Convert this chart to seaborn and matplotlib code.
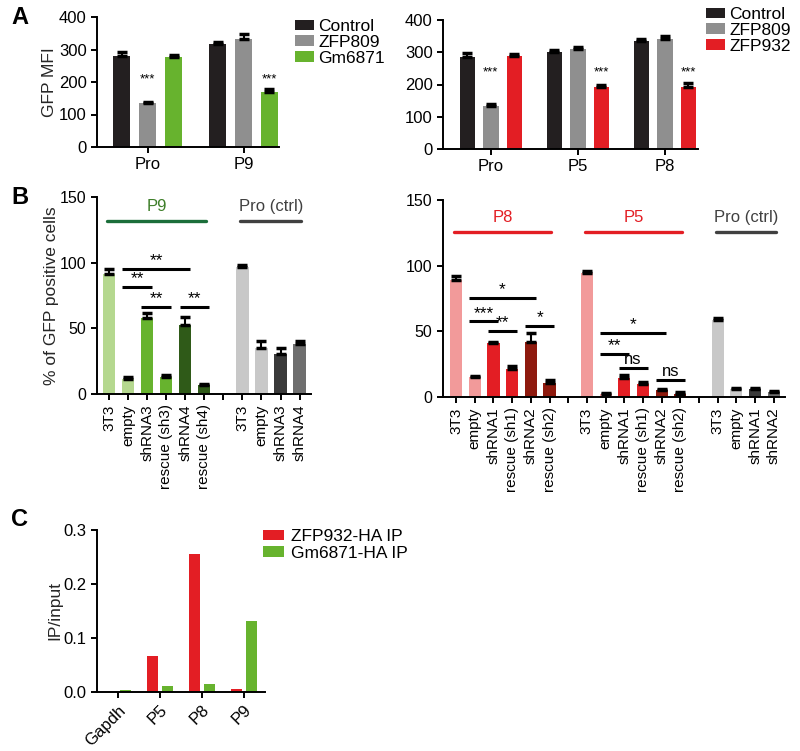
"""Figure: GFP reporter silencing by KZFPs (A), shRNA knockdown/rescue (B) and ChIP IP/input (C)."""

import matplotlib
matplotlib.use("Agg")
import matplotlib.pyplot as plt
import numpy as np
import pandas as pd
import seaborn as sns

# ---------------- data ----------------
# Panel A, left
A1_SITES = ["Pro", "P9"]
A1_GROUPS = ["Control", "ZFP809", "Gm6871"]
A1_CONTROL = [281, 317]
A1_ZFP809 = [135, 333]
A1_GM6871 = [277, 168]
A1_CONTROL_ERR = [11, 6]
A1_ZFP809_ERR = [4, 14]
A1_GM6871_ERR = [7, 10]
A1_STARS = [("Pro", "ZFP809", "***"), ("P9", "Gm6871", "***")]

# Panel A, right
A2_SITES = ["Pro", "P5", "P8"]
A2_GROUPS = ["Control", "ZFP809", "ZFP932"]
A2_CONTROL = [284, 300, 336]
A2_ZFP809 = [134, 309, 340]
A2_ZFP932 = [287, 192, 192]
A2_CONTROL_ERR = [15, 8, 6]
A2_ZFP809_ERR = [6, 7, 10]
A2_ZFP932_ERR = [9, 6, 12]
A2_STARS = [("Pro", "ZFP809", "***"), ("P5", "ZFP932", "***"), ("P8", "ZFP932", "***")]

# Panel B, left ("" = empty slot)
B1_LABELS = ["3T3", "empty", "shRNA3", "rescue (sh3)", "shRNA4", "rescue (sh4)", "",
             "3T3", "empty", "shRNA3", "shRNA4"]
B1_MEAN = [91.3, 11.4, 57.5, 12.7, 52.6, 6.9, None, 96.6, 35.3, 30.8, 38.1]
B1_ERR = [3.7, 1.6, 4.5, 1.5, 5.9, 1.0, None, 1.4, 5.4, 4.5, 2.1]
B1_BRACKETS = [(1, 4, 95, "**"), (1, 2, 81.4, "**"), (2, 3, 66.6, "**"), (4, 5, 66.6, "**")]
B1_HEADERS = [(0, 5, "P9"), (7, 10, "Pro (ctrl)")]

# Panel B, right
B2_LABELS = ["3T3", "empty", "shRNA1", "rescue (sh1)", "shRNA2", "rescue (sh2)", "",
             "3T3", "empty", "shRNA1", "rescue (sh1)", "shRNA2", "rescue (sh2)", "",
             "3T3", "empty", "shRNA1", "shRNA2"]
B2_MEAN = [89.4, 15.0, 41.0, 21.1, 41.5, 11.0, None,
           94.2, 2.5, 14.8, 9.9, 5.1, 2.0, None,
           58.8, 6.4, 5.9, 4.1]
B2_ERR = [2.6, 1.0, 1.0, 2.6, 7.6, 1.7, None,
          1.8, 0.8, 1.8, 1.8, 1.0, 1.8, None,
          1.0, 0.7, 0.7, 0.7]
B2_BRACKETS = [(1, 4, 75.4, "*"), (1, 2, 57.5, "***"), (2, 3, 50.4, "**"), (4, 5, 54.2, "*"),
               (8, 11, 49.1, "*"), (8, 9, 32.6, "**"), (9, 10, 22.4, "ns"), (11, 12, 13.0, "ns")]
B2_HEADERS = [(0, 5, "P8"), (7, 12, "P5"), (14, 17, "Pro (ctrl)")]

# Panel C
C_TARGETS = ["Gapdh", "P5", "P8", "P9"]
C_SERIES = ["ZFP932-HA IP", "Gm6871-HA IP"]
C_ZFP932 = [0.0003, 0.067, 0.255, 0.0055]
C_GM6871 = [0.003, 0.011, 0.015, 0.132]

# ---------------- style ----------------
BLACK = "#231f20"
GREY = "#8f8f8f"
GREEN = "#67b32e"
RED = "#e31e24"
LGREEN, DGREEN = "#b5d88f", "#2f5a18"
PINK, DRED = "#f29a9a", "#8e1a0e"
LGREY, DGREY, MGREY = "#c8c8c8", "#3a3a3a", "#6e6e6e"

B1_COLORS = [LGREEN, LGREEN, GREEN, GREEN, DGREEN, DGREEN, None, LGREY, LGREY, DGREY, MGREY]
B2_COLORS = [PINK, PINK, RED, RED, DRED, DRED, None,
             PINK, PINK, RED, RED, DRED, DRED, None,
             LGREY, LGREY, DGREY, MGREY]
B1_HEADER_COLORS = [("#1b6e3a", "#3f7f2a"), ("#404040", "#404040")]
B2_HEADER_COLORS = [(RED, RED), (RED, RED), ("#404040", "#404040")]

sns.set_theme(style="ticks")
plt.rcParams["font.family"] = ["Liberation Sans", "DejaVu Sans"]
plt.rcParams.update({
    "font.size": 12,
    "axes.linewidth": 1.4,
    "axes.edgecolor": "black",
    "axes.labelpad": 1.0,
    "xtick.major.width": 1.4,
    "ytick.major.width": 1.4,
    "xtick.major.size": 4,
    "ytick.major.size": 4,
    "xtick.labelsize": 12,
    "ytick.labelsize": 12,
    "xtick.color": "black",
    "ytick.color": "black",
    "text.color": "black",
})

W, H = 800, 751
fig = plt.figure(figsize=(W / 100, H / 100), dpi=100)


def px_axes(x0, y0, x1, y1):
    return fig.add_axes([x0 / W, 1 - y1 / H, (x1 - x0) / W, (y1 - y0) / H])


def errbars(ax, x, y, e):
    ax.errorbar(x, y, yerr=[np.zeros(len(e)), e], fmt="none", ecolor="black",
                elinewidth=1.5, capsize=3.5, capthick=2.5, zorder=3)


def grouped_panel(ax, sites, groups, means, errs, palette, stars, ylabel, leg_xy, star_y):
    df = pd.DataFrame({
        "site": np.repeat([sites], len(groups), axis=0).ravel(),
        "group": np.repeat(groups, len(sites)),
        "value": np.concatenate(means),
    })
    sns.barplot(data=df, x="site", y="value", hue="group", order=sites, hue_order=groups,
                palette=palette, saturation=1, width=0.81, gap=0.35, linewidth=0,
                errorbar=None, ax=ax)
    centers = {}
    for g, cont, m, e in zip(groups, ax.containers, means, errs):
        xs = [b.get_x() + b.get_width() / 2 for b in cont]
        errbars(ax, xs, m, e)
        for s, x in zip(sites, xs):
            centers[(s, g)] = x
    for s, g, txt in stars:
        ax.text(centers[(s, g)], star_y, txt, ha="center", va="center", fontsize=9.5)
    ax.set_ylim(0, 400)
    ax.set_yticks([0, 100, 200, 300, 400])
    ax.set_xlabel("")
    ax.set_ylabel(ylabel, fontsize=12.5)
    ax.tick_params(axis="x", length=4)
    ax.legend(loc="upper left", bbox_to_anchor=(leg_xy[0] / W, 1 - leg_xy[1] / H),
              bbox_transform=fig.transFigure, frameon=False, borderaxespad=0,
              borderpad=0, handlelength=1.1, handleheight=0.55, handletextpad=0.25,
              labelspacing=0.05, fontsize=12.5)
    sns.despine(ax=ax)


def slot_panel(ax, labels, mean, err, colors, brackets, headers, header_colors, hdr_y, ylabel):
    keys = [f"s{i}" for i in range(len(labels))]
    rows = [(k, m) for k, m in zip(keys, mean) if m is not None]
    df = pd.DataFrame(rows, columns=["slot", "value"])
    pal = {k: c for k, c in zip(keys, colors) if c is not None}
    sns.barplot(data=df, x="slot", y="value", hue="slot", order=keys, palette=pal,
                saturation=1, width=0.65, linewidth=0, errorbar=None, legend=False, ax=ax)
    idx = [i for i, m in enumerate(mean) if m is not None]
    errbars(ax, idx, [mean[i] for i in idx], [err[i] for i in idx])
    ax.set_xticks(range(len(labels)))
    ax.set_xticklabels(labels, rotation=90, fontsize=11)
    ax.tick_params(axis="y", labelsize=11.5)
    for i, j, y, txt in brackets:
        ax.plot([i - 0.3, j + 0.25], [y, y], color="black", lw=2.2, solid_capstyle="butt")
        ax.annotate(txt, ((i - 0.3 + j + 0.25) / 2, y), xytext=(0, 0.5),
                    textcoords="offset points", ha="center", va="bottom",
                    fontsize=12.5 if "*" in txt else 12)
    for (i, j, txt), (lc, tc) in zip(headers, header_colors):
        ax.plot([i - 0.1, j + 0.1], [hdr_y, hdr_y], color=lc, lw=2.4, solid_capstyle="round")
        ax.text((i + j) / 2, hdr_y + 11, txt, color=tc, ha="center", va="center", fontsize=12)
    ax.set_ylim(0, 150)
    ax.set_yticks([0, 50, 100, 150])
    ax.set_xlabel("")
    ax.set_ylabel(ylabel, fontsize=12.5)
    sns.despine(ax=ax)


# ---- panel A ----
axA1 = px_axes(97, 17, 279, 147)
grouped_panel(axA1, A1_SITES, A1_GROUPS, [A1_CONTROL, A1_ZFP809, A1_GM6871],
              [A1_CONTROL_ERR, A1_ZFP809_ERR, A1_GM6871_ERR], [BLACK, GREY, GREEN],
              A1_STARS, "GFP MFI", (295, 19), 208)
axA1.set_xlim(-0.53, 1.37)

axA2 = px_axes(443, 20, 698, 149)
grouped_panel(axA2, A2_SITES, A2_GROUPS, [A2_CONTROL, A2_ZFP809, A2_ZFP932],
              [A2_CONTROL_ERR, A2_ZFP809_ERR, A2_ZFP932_ERR], [BLACK, GREY, RED],
              A2_STARS, "", (706, 7), 238)
axA2.set_xlim(-0.55, 2.38)

# ---- panel B ----
axB1 = px_axes(97, 197, 311, 394)
slot_panel(axB1, B1_LABELS, B1_MEAN, B1_ERR, B1_COLORS, B1_BRACKETS, B1_HEADERS,
           B1_HEADER_COLORS, 132, "% of GFP positive cells")
axB1.set_xlim(-0.63, 10.6)

axB2 = px_axes(443, 200, 785, 397)
slot_panel(axB2, B2_LABELS, B2_MEAN, B2_ERR, B2_COLORS, B2_BRACKETS, B2_HEADERS,
           B2_HEADER_COLORS, 126, "")
axB2.set_xlim(-0.7, 17.6)

# ---- panel C ----
axC = px_axes(97, 530, 265, 692)
dfC = pd.DataFrame({
    "target": C_TARGETS * 2,
    "series": np.repeat(C_SERIES, len(C_TARGETS)),
    "value": C_ZFP932 + C_GM6871,
})
sns.barplot(data=dfC, x="target", y="value", hue="series", order=C_TARGETS,
            hue_order=C_SERIES, palette=[RED, GREEN], saturation=1, width=0.72, gap=0.3,
            linewidth=0, errorbar=None, ax=axC)
axC.set_ylim(0, 0.3)
axC.set_yticks([0.0, 0.1, 0.2, 0.3])
axC.set_yticklabels([f"{v:.1f}" for v in [0.0, 0.1, 0.2, 0.3]])
axC.set_xlim(-0.5, 3.5)
axC.set_xlabel("")
axC.set_ylabel("IP/input", fontsize=12.5)
plt.setp(axC.get_xticklabels(), rotation=45, ha="right", rotation_mode="anchor")
axC.legend(loc="upper left", bbox_to_anchor=(263 / W, 1 - 529 / H),
           bbox_transform=fig.transFigure, frameon=False, borderaxespad=0, borderpad=0,
           handlelength=1.2, handleheight=0.55, handletextpad=0.4, labelspacing=0.1,
           fontsize=12.5)
sns.despine(ax=axC)

# panel letters
for letter, (x, y) in {"A": (20, 18), "B": (20, 197), "C": (20, 520)}.items():
    fig.text(x / W, 1 - y / H, letter, fontsize=17, fontweight="bold", ha="center", va="center")

fig.savefig("out.png", dpi=100)
